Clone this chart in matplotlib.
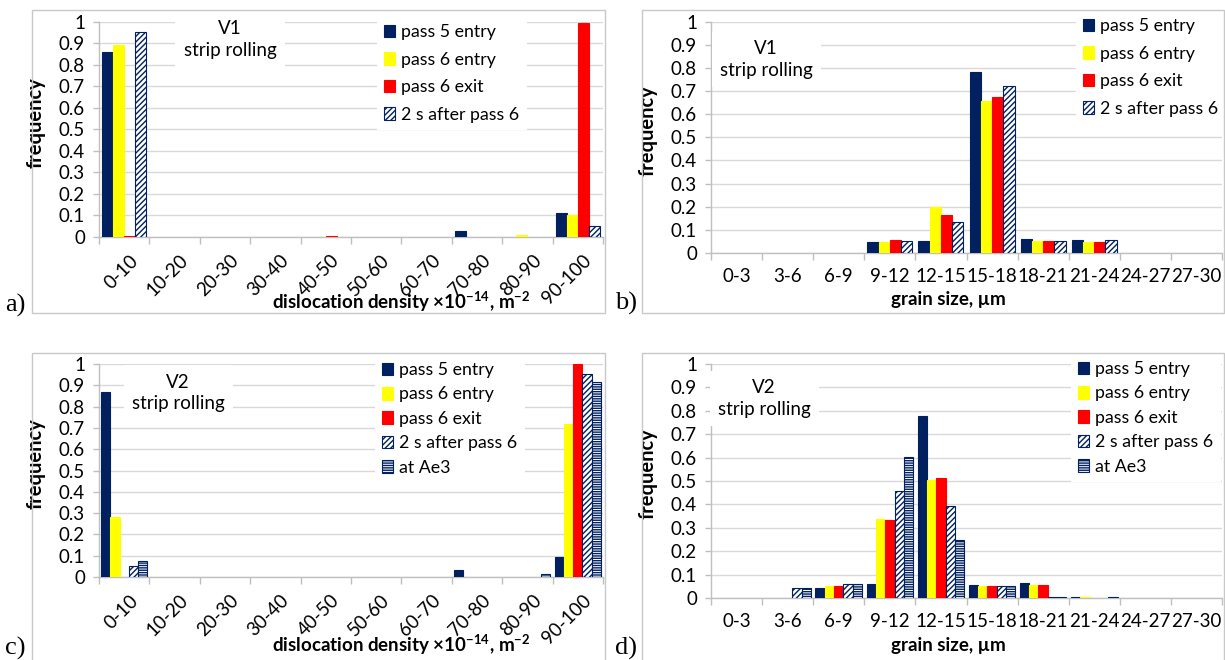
import matplotlib
matplotlib.use("Agg")
import matplotlib.pyplot as plt
from matplotlib.patches import Rectangle, Patch
from matplotlib.transforms import ScaledTranslation
import numpy as np

plt.rcParams['font.family'] = ['Lato', 'DejaVu Sans']
plt.rcParams['mathtext.default'] = 'regular'
plt.rcParams['hatch.linewidth'] = 1.0

# ---------------- data ----------------
disl_cats = ["0-10", "10-20", "20-30", "30-40", "40-50", "50-60", "60-70", "70-80", "80-90", "90-100"]
grain_cats = ["0-3", "3-6", "6-9", "9-12", "12-15", "15-18", "18-21", "21-24", "24-27", "27-30"]

series_names = ["pass 5 entry", "pass 6 entry", "pass 6 exit", "2 s after pass 6", "at Ae3"]

# a) V1 dislocation density
a_pass5_entry = [0.86, 0, 0, 0, 0, 0, 0, 0.028, 0, 0.113]
a_pass6_entry = [0.89, 0, 0, 0, 0, 0, 0, 0, 0.007, 0.10]
a_pass6_exit  = [0.003, 0, 0, 0, 0.003, 0, 0, 0, 0, 0.995]
a_after2s     = [0.95, 0, 0, 0, 0, 0, 0, 0, 0, 0.053]

# b) V1 grain size
b_pass5_entry = [0, 0, 0, 0.047, 0.052, 0.784, 0.062, 0.056, 0, 0]
b_pass6_entry = [0, 0, 0, 0.047, 0.197, 0.655, 0.053, 0.047, 0, 0]
b_pass6_exit  = [0, 0, 0, 0.058, 0.165, 0.675, 0.053, 0.047, 0, 0]
b_after2s     = [0, 0, 0, 0.050, 0.134, 0.722, 0.050, 0.056, 0, 0]

# c) V2 dislocation density
c_pass5_entry = [0.870, 0, 0, 0, 0, 0, 0, 0.034, 0, 0.095]
c_pass6_entry = [0.280, 0, 0, 0, 0, 0, 0, 0, 0, 0.719]
c_pass6_exit  = [0, 0, 0, 0, 0, 0, 0, 0, 0, 1.0]
c_after2s     = [0.050, 0, 0, 0, 0, 0, 0, 0, 0, 0.953]
c_at_ae3      = [0.073, 0, 0, 0, 0, 0, 0, 0, 0.013, 0.917]

# d) V2 grain size
d_pass5_entry = [0, 0, 0.041, 0.060, 0.776, 0.056, 0.063, 0.004, 0, 0]
d_pass6_entry = [0, 0, 0.050, 0.338, 0.506, 0.051, 0.054, 0.003, 0, 0]
d_pass6_exit  = [0, 0, 0.050, 0.332, 0.511, 0.051, 0.054, 0, 0, 0]
d_after2s     = [0, 0.041, 0.061, 0.457, 0.392, 0.053, 0.005, 0, 0, 0]
d_at_ae3      = [0, 0.041, 0.061, 0.601, 0.246, 0.053, 0.005, 0.005, 0, 0]

NAVY = "#002060"
styles = [
    dict(color=NAVY, edgecolor=NAVY, hatch=None),
    dict(color="#FFFF00", edgecolor="#FFFF00", hatch=None),
    dict(color="#FF0000", edgecolor="#FF0000", hatch=None),
    dict(color="white", edgecolor=NAVY, hatch="//////"),
    dict(color="white", edgecolor=NAVY, hatch="-------"),
]

W, H = 1225, 660
fig = plt.figure(figsize=(W / 100, H / 100), dpi=100)

GRID = "#D9D9D9"
AXC = "#BFBFBF"
FS = 13.5
LFS = 12.8


def px_rect(x0, y0, x1, y1):
    return [x0 / W, 1 - y1 / H, (x1 - x0) / W, (y1 - y0) / H]


# panel frames
for (x0, y0, x1, y1) in [(32, 10, 605, 313), (642, 10, 1224, 313),
                         (32, 353, 605, 662), (642, 353, 1224, 662)]:
    fig.patches.append(Rectangle((x0 / W, 1 - y1 / H), (x1 - x0) / W, (y1 - y0) / H,
                                 transform=fig.transFigure, fill=False,
                                 edgecolor="#C8C8C8", lw=1.0, zorder=0))


def make_panel(rect, cats, data, vtext, leg_xy, rotated, group_w, labelspacing):
    ax = fig.add_axes(rect)
    n = len(data)
    bw = group_w / n
    x = np.arange(len(cats))
    for i, vals in enumerate(data):
        st = styles[i]
        lws = [0.8 if v > 0 else 0 for v in vals]
        ax.bar(x - group_w / 2 + bw * (i + 0.5), vals, width=bw, color=st["color"],
               edgecolor=st["edgecolor"], hatch=st["hatch"], linewidth=lws, zorder=3)
    ax.set_xlim(-0.5, len(cats) - 0.5)
    ax.set_ylim(0, 1)
    ax.set_yticks(np.linspace(0, 1, 11))
    ax.set_yticklabels(["0", "0.1", "0.2", "0.3", "0.4", "0.5", "0.6", "0.7", "0.8", "0.9", "1"])
    ax.grid(axis="y", color=GRID, lw=1.0, zorder=0)
    ax.set_axisbelow(True)
    for s in ["top", "right"]:
        ax.spines[s].set_visible(False)
    for s in ["left", "bottom"]:
        ax.spines[s].set_color(AXC)
        ax.spines[s].set_linewidth(1.0)
    ax.tick_params(axis="y", length=4, color=AXC, width=1.0, pad=6, labelsize=FS)
    ax.set_xticks(x)
    ax.set_xticks(np.arange(len(cats) + 1) - 0.5, minor=True)
    ax.tick_params(axis="x", which="minor", length=5, color=AXC, width=1.0)
    ax.tick_params(axis="x", which="major", length=0, labelsize=FS,
                   pad=(15 if rotated else 11))
    ax.set_xticklabels(cats)
    if rotated:
        for lab in ax.get_xticklabels():
            lab.set_rotation(45)
            lab.set_ha("right")
            lab.set_va("center")
            lab.set_rotation_mode("anchor")
            lab.set_transform(lab.get_transform() + ScaledTranslation(0.11, 0, fig.dpi_scale_trans))
    ax.set_ylabel("frequency", fontsize=14.5, fontweight="bold")
    ax.yaxis.set_label_coords(-0.105, 0.53)
    ax.text(vtext[0], vtext[1], vtext[2], transform=ax.transAxes, ha="center", va="center",
            fontsize=FS, linespacing=1.35, zorder=5,
            bbox=dict(facecolor="white", edgecolor="none", pad=6))
    handles = [Patch(facecolor=styles[i]["color"], edgecolor=styles[i]["edgecolor"],
                     hatch=styles[i]["hatch"], lw=0.8, label=series_names[i]) for i in range(n)]
    leg = ax.legend(handles=handles, loc="upper left",
                    bbox_to_anchor=(leg_xy[0] / W, 1 - leg_xy[1] / H),
                    bbox_transform=fig.transFigure, frameon=True, fancybox=False,
                    facecolor="white", edgecolor="none", framealpha=1,
                    fontsize=LFS, handlelength=0.62, handleheight=0.72,
                    handletextpad=0.35, labelspacing=labelspacing, borderpad=0.4,
                    borderaxespad=0)
    leg.set_zorder(6)
    return ax


make_panel(px_rect(99, 21.7, 603, 237), disl_cats,
           [a_pass5_entry, a_pass6_entry, a_pass6_exit, a_after2s],
           (0.26, 0.917, "V1\nstrip rolling"), (377, 17), True, 0.88, 0.65)
make_panel(px_rect(711, 21.7, 1222, 253), grain_cats,
           [b_pass5_entry, b_pass6_entry, b_pass6_exit, b_after2s],
           (0.108, 0.836, "V1\nstrip rolling"), (1076, 11), False, 0.88, 0.65)
make_panel(px_rect(99, 364, 603, 577), disl_cats,
           [c_pass5_entry, c_pass6_entry, c_pass6_exit, c_after2s, c_at_ae3],
           (0.157, 0.864, "V2\nstrip rolling"), (375, 355), True, 0.91, 0.47)
make_panel(px_rect(711, 364, 1222, 598), grain_cats,
           [d_pass5_entry, d_pass6_entry, d_pass6_exit, d_after2s, d_at_ae3],
           (0.104, 0.853, "V2\nstrip rolling"), (1071, 354), False, 0.91, 0.47)

xl_dis = "dislocation density \u00d710$^{-14}$, m$^{-2}$"
xl_gr = "grain size, \u00b5m"
for (xc, yc, t) in [(401, 302, xl_dis), (948, 300, xl_gr), (401, 645, xl_dis), (948, 645, xl_gr)]:
    fig.text(xc / W, 1 - yc / H, t, ha="center", va="center", fontsize=13.5, fontweight="bold")

for (xc, yc, t) in [(5, 305, "a)"), (615, 303, "b)"), (5, 648, "c)"), (615, 648, "d)")]:
    fig.text(xc / W, 1 - yc / H, t, ha="left", va="center", fontsize=19,
             family=["Liberation Serif", "DejaVu Serif"])

fig.savefig("out.png", dpi=100)
